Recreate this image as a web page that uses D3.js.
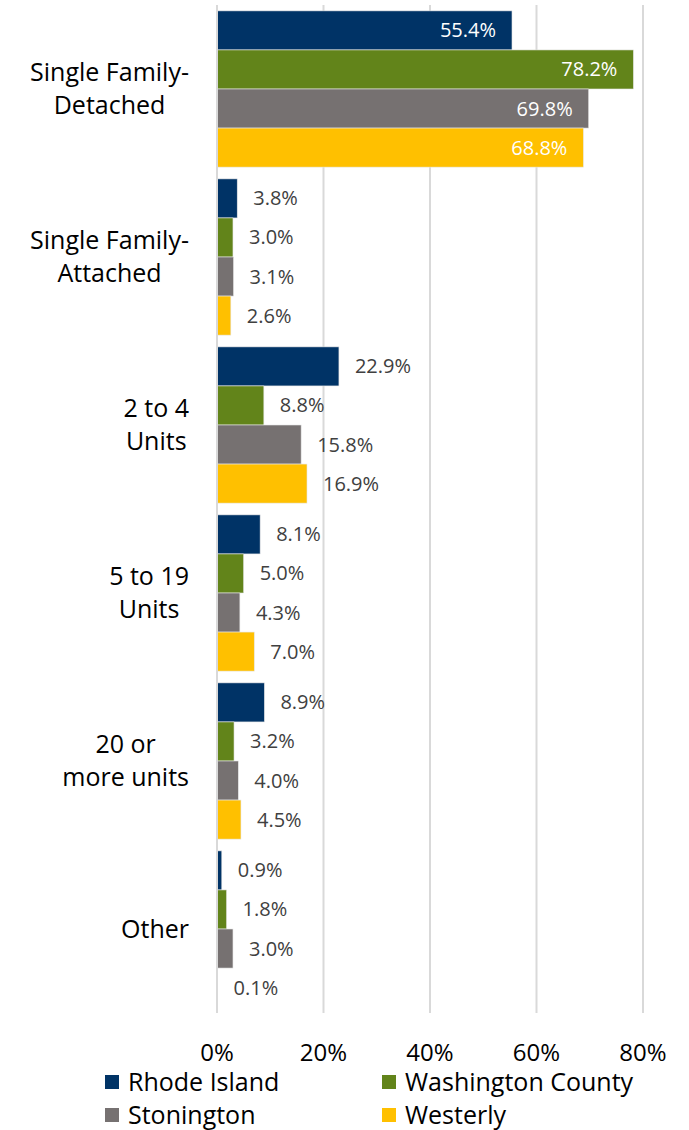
<!DOCTYPE html>
<html>
<head>
<meta charset="utf-8">
<script src="https://cdn.jsdelivr.net/npm/d3@7"></script>
<style>
body{margin:0;background:#fff;}
svg text{font-family:"Open Sans","Noto Sans",sans-serif;}
</style>
</head>
<body>
<svg id="chart" width="689" height="1130"></svg>
<script>
var categories = [["Single Family-","Detached"],["Single Family-","Attached"],["2 to 4","Units"],["5 to 19","Units"],["20 or","more units"],["Other"]];
var seriesNames = ["Rhode Island","Washington County","Stonington","Westerly"];
var colorArray = ["#003366","#62841a","#767171","#ffc000"];
var rhodeIsland = [55.4, 3.8, 22.9, 8.1, 8.9, 0.9];
var washington = [78.2, 3.0, 8.8, 5.0, 3.2, 1.8];
var stonington = [69.8, 3.1, 15.8, 4.3, 4.0, 3.0];
var westerly = [68.8, 2.6, 16.9, 7.0, 4.5, 0.1];
var tickValues = [0, 20, 40, 60, 80];

var values = [rhodeIsland, washington, stonington, westerly];
var svg = d3.select("#chart");
var catKeys = categories.map(function(d,i){ return i; });

var x = d3.scaleLinear().domain([0,80]).range([217,643]);
var y = d3.scaleBand().domain(catKeys).range([5,1013]).paddingInner(0.07).paddingOuter(0.035);
var ySub = d3.scaleBand().domain(seriesNames).range([0,y.bandwidth()]);

//gridlines
svg.append("g").selectAll("line").data(tickValues)
	.enter().append("line")
		.attr("x1",function(d){ return x(d); })
		.attr("x2",function(d){ return x(d); })
		.attr("y1",5)
		.attr("y2",1013)
		.attr("stroke","#d9d9d9")
		.attr("stroke-width",2);

//bars
for(var s=0; s<seriesNames.length; s++){
	var g = svg.append("g");
	for(var i=0; i<categories.length; i++){
		var v = values[s][i];
		var by = y(i) + ySub(seriesNames[s]);
		g.append("rect")
			.attr("x",x(0))
			.attr("y",by)
			.attr("width",x(v)-x(0))
			.attr("height",ySub.bandwidth())
			.attr("fill",colorArray[s])
			.attr("stroke","#e6e6e6")
			.attr("stroke-width",0.6);
		var inside = v > 50;
		g.append("text")
			.text(v.toFixed(1)+"%")
			.attr("x",inside ? x(v)-16 : x(v)+16)
			.attr("y",by+ySub.bandwidth()/2)
			.attr("dy","0.35em")
			.attr("text-anchor",inside ? "end" : "start")
			.attr("fill",inside ? "#ffffff" : "#404040")
			.style("font-size","20px");
	}
}

//axis line
svg.append("line")
	.attr("x1",x(0)).attr("x2",x(0))
	.attr("y1",5).attr("y2",1013)
	.attr("stroke","#d9d9d9")
	.attr("stroke-width",2);

//category labels
for(var i=0; i<categories.length; i++){
	var lines = categories[i];
	var lab = svg.append("text").style("font-size","25px").attr("fill","#000");
	var cy = y(i) + y.bandwidth()/2;
	var lh = 33;
	lines.forEach(function(t,k){
		lab.append("tspan")
			.text(t)
			.attr("y",cy + (k-(lines.length-1)/2)*lh)
			.attr("dy","0.35em");
	});
	var maxW = 0;
	lab.selectAll("tspan").each(function(){ maxW = Math.max(maxW,this.getComputedTextLength()); });
	lab.selectAll("tspan").attr("x",189-maxW/2).attr("text-anchor","middle");
}

//tick labels
svg.append("g").selectAll("text").data(tickValues)
	.enter().append("text")
		.text(function(d){ return d+"%"; })
		.attr("x",function(d){ return x(d); })
		.attr("y",1053)
		.attr("dy","0.35em")
		.attr("text-anchor","middle")
		.attr("fill","#000")
		.style("font-size","24px");

//legend
var legendPos = [[105,1082],[382,1082],[105,1115],[382,1115]];
for(var s=0; s<seriesNames.length; s++){
	svg.append("rect")
		.attr("x",legendPos[s][0])
		.attr("y",legendPos[s][1]-7)
		.attr("width",14)
		.attr("height",14)
		.attr("fill",colorArray[s]);
	svg.append("text")
		.text(seriesNames[s])
		.attr("x",legendPos[s][0]+23)
		.attr("y",legendPos[s][1])
		.attr("dy","0.35em")
		.attr("fill","#000")
		.style("font-size","25px");
}
</script>
</body>
</html>
